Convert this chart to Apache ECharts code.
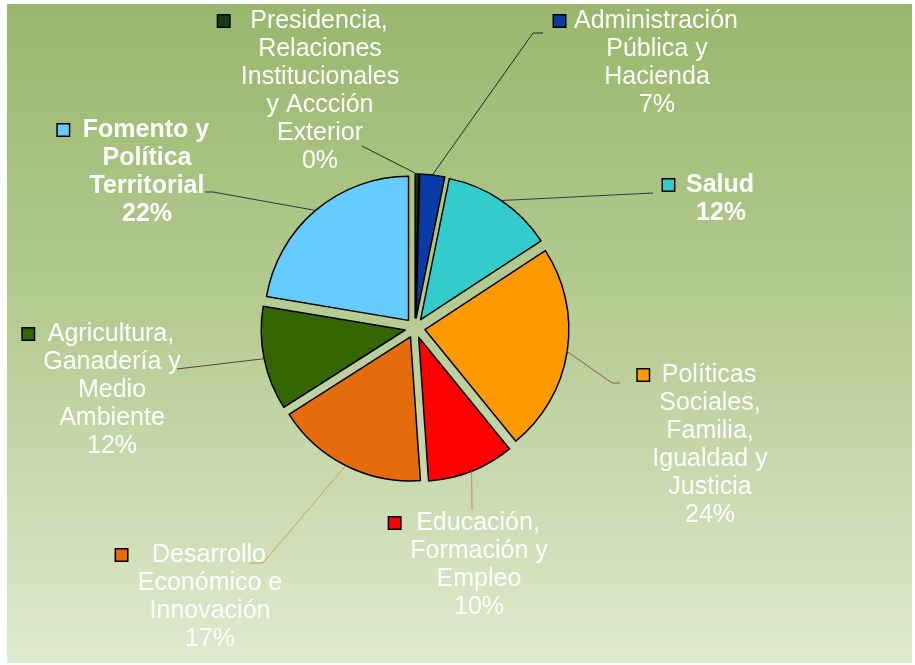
<!DOCTYPE html>
<html>
<head>
<meta charset="utf-8">
<script src="https://cdn.jsdelivr.net/npm/echarts@6/dist/echarts.min.js"></script>
<style>
html,body{margin:0;padding:0;background:#fff;}
#chart{width:915px;height:665px;}
</style>
</head>
<body>
<div id="chart"></div>
<script>
// ---- data ----
const categories = [
  'Presidencia,\nRelaciones\nInstitucionales\ny Accción\nExterior',
  'Administración\nPública y\nHacienda',
  'Salud',
  'Políticas\nSociales,\nFamilia,\nIgualdad y\nJusticia',
  'Educación,\nFormación y\nEmpleo',
  'Desarrollo\nEconómico e\nInnovación',
  'Agricultura,\nGanadería y\nMedio\nAmbiente',
  'Fomento y\nPolítica\nTerritorial'
];
const sliceValues = [0.4, 2.8, 12.6, 23.4, 9.8, 17.1, 11.7, 22.4];
const percentLabels = ['0%', '7%', '12%', '24%', '10%', '17%', '12%', '22%'];

// ---- styles / layout ----
const colors = ['#143c14', '#0b3aa6', '#33cccc', '#ff9900', '#ff0000', '#e46c0a', '#336600', '#66ccff'];
const lineColors = ['#1e2e1e', '#1c2838', '#2e3a48', '#8a5a4e', '#c88a6a', '#c9a24a', '#6a3a30', '#2a3444'];
const boldFlags = [false, false, true, false, false, false, false, true];
const keyGaps = [21, 9, 12, 13, 16, 25, 14, 14];
const labelCenters = [[320, 91], [657, 63], [721, 199], [710, 445], [479, 565], [210, 597], [112, 390], [147, 172]];
// leader-line attachment offsets relative to label centre: [bend, end]
const leaderOffsets = [
  [[42, 55], [42, 55]],
  [[-124, -30], [-114, -30]],
  [[-68, -6], [-68, -6]],
  [[-98, -62], [-90, -62]],
  [[-7, -55], [-7, -55]],
  [[53, -34], [40, -34]],
  [[65, -21], [65, -21]],
  [[66, 20], [58, 20]]
];

const chart = echarts.init(document.getElementById('chart'));

const sliceData = categories.map((name, i) => ({
  name: name,
  value: sliceValues[i],
  selected: true,
  itemStyle: { color: colors[i] },
  select: { itemStyle: { color: colors[i], borderColor: '#000', borderWidth: 1.5 } }
}));

const labelData = categories.map((name, i) => {
  const lines = name.split('\n');
  const first = '{box|}{g' + i + '|}' + lines[0] + '{s' + i + '|}';
  const text = [first].concat(lines.slice(1)).concat([percentLabels[i]]).join('\n');
  const rich = {
    box: { width: 11, height: 11, backgroundColor: colors[i], borderColor: '#000', borderWidth: 1.5 }
  };
  rich['g' + i] = { width: keyGaps[i] };
  rich['s' + i] = { width: keyGaps[i] + 13 };
  return {
    name: name,
    value: sliceValues[i],
    label: {
      formatter: text,
      fontWeight: boldFlags[i] ? 'bold' : 'normal',
      rich: rich
    },
    labelLine: { lineStyle: { color: lineColors[i], width: 1 } }
  };
});

chart.setOption({
  animation: false,
  graphic: [{
    type: 'rect',
    z: -10,
    silent: true,
    shape: { x: 7, y: 4, width: 905, height: 659 },
    style: {
      fill: new echarts.graphic.LinearGradient(0, 0, 0, 1, [
        { offset: 0, color: '#99b76c' },
        { offset: 0.5, color: '#b7cd95' },
        { offset: 1, color: '#dfeacf' }
      ])
    }
  }],
  series: [{
    type: 'pie',
    center: [415, 328],
    radius: 144,
    startAngle: 90,
    clockwise: true,
    selectedMode: 'multiple',
    selectedOffset: 10,
    silent: true,
    emphasis: { disabled: true },
    itemStyle: { borderColor: '#000', borderWidth: 1.5 },
    label: { show: false },
    labelLine: { show: false },
    data: sliceData
  }, {
    type: 'pie',
    center: [415, 328],
    radius: 154,
    startAngle: 90,
    clockwise: true,
    silent: true,
    z: 3,
    avoidLabelOverlap: false,
    emphasis: { disabled: true },
    itemStyle: { color: 'rgba(0,0,0,0)', borderWidth: 0 },
    label: {
      show: true,
      position: 'outside',
      color: '#ffffff',
      fontFamily: 'Liberation Sans, Arial, sans-serif',
      fontSize: 25,
      lineHeight: 28,
      align: 'center'
    },
    labelLine: { show: true, length: 10, length2: 10, smooth: false, minTurnAngle: 0 },
    labelLayout: function (params) {
      const i = params.dataIndex;
      const c = labelCenters[i];
      const out = { x: c[0], y: c[1], align: 'center', verticalAlign: 'middle' };
      if (params.labelLinePoints && params.labelLinePoints[0]) {
        const p0 = params.labelLinePoints[0];
        const o = leaderOffsets[i];
        out.labelLinePoints = [
          [p0[0], p0[1]],
          [c[0] + o[0][0], c[1] + o[0][1]],
          [c[0] + o[1][0], c[1] + o[1][1]]
        ];
      }
      return out;
    },
    data: labelData
  }]
});
</script>
</body>
</html>
